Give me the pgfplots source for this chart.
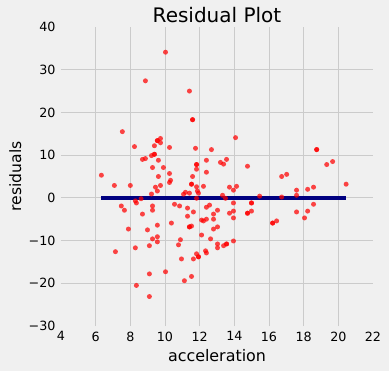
\documentclass[border=0pt]{standalone}
\usepackage{pgfplots}
\pgfplotsset{compat=1.18}
\usepackage{fontspec}
\setmainfont{DejaVu Sans}
\definecolor{bg}{HTML}{F0F0F0}
\definecolor{gridc}{HTML}{CBCBCB}
\definecolor{navyc}{HTML}{000080}
\begin{document}
\begin{tikzpicture}
\path[use as bounding box, fill=bg] (0,0) rectangle (389bp,371bp);
\begin{axis}[
  at={(61bp,45bp)}, anchor=south west,
  scale only axis, width=312bp, height=299bp,
  xmin=4, xmax=22, ymin=-30, ymax=40,
  axis background/.style={fill=bg},
  axis line style={draw=none},
  major tick length=0pt, minor tick length=0pt,
  xtick={4,6,...,22}, xticklabels={4,6,8,10,12,14,16,18,20,22},
  ytick={-30,-20,...,40}, yticklabels={−30,−20,−10,0,10,20,30,40},
  minor xtick={6,8,...,20}, minor ytick={-20,-10,...,30},
  xminorgrids, yminorgrids,
  minor grid style={draw=gridc, line width=1bp},
  /pgf/number format/assume math mode=true,
  xticklabel style={font=\fontsize{12.7bp}{14bp}\selectfont, anchor=north, inner sep=0pt, yshift=-5.5bp},
  yticklabel style={font=\fontsize{12.7bp}{14bp}\selectfont, anchor=east, inner sep=0pt, xshift=-5.3bp},
  title={Residual Plot},
  every axis title/.style={font=\fontsize{20bp}{24bp}\selectfont, at={(axis description cs:0.5,1)}, anchor=base, yshift=4bp, inner sep=0pt},
  xlabel={acceleration},
  every axis x label/.style={font=\fontsize{15.9bp}{18bp}\selectfont, at={(axis description cs:0.5,0)}, anchor=base, yshift=-35bp, inner sep=0pt},
  ylabel={residuals},
  every axis y label/.style={font=\fontsize{15.6bp}{18bp}\selectfont, at={(axis description cs:-0.128,0.5)}, rotate=90, anchor=base, inner sep=0pt},
  clip=false,
]
\addplot[only marks, mark=*, mark size=2.5bp, mark options={draw=red, draw opacity=0, line width=0pt, fill=red, fill opacity=0.72}] table {
x y
6.33 5.3
7.08 2.9
7.14 -12.6
7.48 -1.9
7.54 15.5
7.66 -2.9
7.89 -7.3
8.00 2.9
8.24 12.0
8.29 -0.7
8.29 -11.7
8.35 -1.2
8.35 -20.5
8.62 -0.2
8.70 -3.8
8.70 9.0
8.87 27.4
8.87 9.2
8.99 -7.5
9.10 -11.2
9.10 -17.8
9.10 -23.1
9.22 0.9
9.22 9.9
9.28 7.1
9.28 -1.9
9.28 -2.9
9.28 -9.6
9.39 12.2
9.39 10.2
9.39 10.2
9.45 2.5
9.56 1.6
9.56 -6.4
9.56 -9.1
9.56 -10.3
9.56 13.4
9.56 13.4
9.62 5.0
9.62 8.8
9.74 13.9
9.74 12.9
9.74 2.9
9.91 7.1
10.03 34.1
10.03 -17.3
10.26 11.8
10.26 5.7
10.26 3.6
10.32 4.1
10.37 -5.9
10.55 -1.5
10.84 -1.9
10.78 -11.0
10.89 -9.8
10.95 -14.3
11.07 0.85
11.12 -19.4
11.18 1.3
11.30 -2.4
11.30 -4.3
11.41 25.0
11.41 1.1
11.41 -6.8
11.41 -6.8
11.53 -6.6
11.53 3.2
11.53 3.2
11.53 -18.4
11.59 18.3
11.59 18.3
11.59 5.0
11.64 -3.3
11.64 -14.3
11.76 11.6
11.82 2.6
11.82 6.7
11.82 7.8
11.82 7.8
11.82 -13.1
11.82 -0.1
11.87 1.6
11.93 1.1
11.93 -13.8
11.93 -13.8
12.11 -8.7
12.11 -5.2
12.22 2.7
12.22 -5.4
12.34 -12.4
12.39 8.8
12.39 6.0
12.39 -2.2
12.39 -5.0
12.39 -12.9
12.57 -1.7
12.63 -9.6
12.68 11.3
12.80 -3.8
12.80 -5.0
12.80 -7.3
13.03 -2.9
13.03 -6.8
13.03 -10.8
13.03 -11.7
13.20 8.3
13.32 0.6
13.38 7.9
13.38 -11.2
13.49 -0.1
13.55 9.0
13.55 -10.8
13.55 -10.8
13.72 2.5
13.72 -3.6
13.95 1.8
13.95 -1.2
13.95 -3.1
13.95 -4.7
13.95 -10.1
14.07 14.1
14.13 2.7
14.76 7.4
14.76 -3.6
14.76 -3.6
14.99 -1.2
14.99 -1.2
14.99 -3.1
15.46 0.4
16.21 -5.9
16.21 -5.9
16.44 -5.4
16.73 5.0
16.73 0.2
17.02 5.5
17.59 1.8
17.59 0.6
17.59 -3.3
18.05 -4.7
18.23 2.0
18.23 -3.1
18.57 2.5
18.57 -1.5
18.75 11.3
18.75 11.3
19.33 7.8
19.67 8.5
20.45 3.2
};
\addplot[navyc, line width=4.2bp, line cap=butt] coordinates {(6.33,0) (20.45,0)};
\end{axis}
\end{tikzpicture}
\end{document}
